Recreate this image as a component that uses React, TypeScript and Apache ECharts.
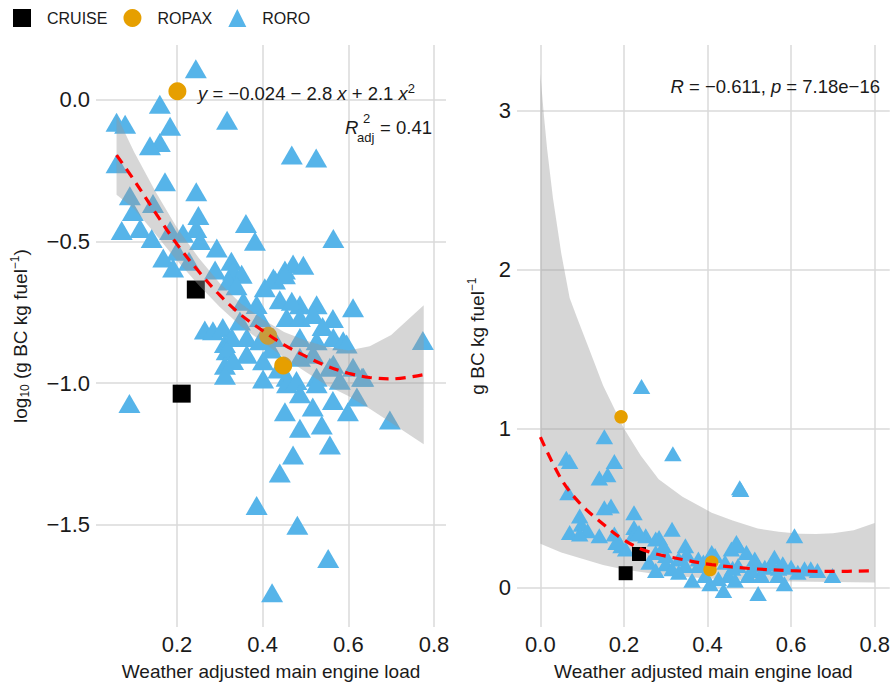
import React, { useEffect, useRef } from 'react';
import * as echarts from 'echarts';

const FONT = '"Liberation Sans", Arial, Helvetica, sans-serif';
const BLUE = '#56B4E9';
const ORANGE = '#E69F00';
const BLACK = '#000000';
const RED = '#FF0000';
const TXT = '#1a1a1a';

// ---------- Left panel (log10 scale) ----------
const leftRoro: [number, number][] = [
  [0.244, 0.108], [0.160, -0.017], [0.317, -0.073], [0.059, -0.080], [0.079, -0.087],
  [0.184, -0.094], [0.160, -0.152], [0.137, -0.163], [0.468, -0.196], [0.525, -0.206],
  [0.059, -0.227], [0.172, -0.290], [0.245, -0.325], [0.090, -0.339], [0.144, -0.367],
  [0.097, -0.395], [0.250, -0.409], [0.071, -0.462], [0.114, -0.455], [0.141, -0.490],
  [0.184, -0.462], [0.214, -0.472], [0.245, -0.455], [0.254, -0.497], [0.361, -0.437],
  [0.382, -0.500], [0.293, -0.524], [0.327, -0.570], [0.200, -0.535], [0.168, -0.559],
  [0.191, -0.594], [0.228, -0.570], [0.565, -0.490], [0.471, -0.580], [0.495, -0.584],
  [0.452, -0.601], [0.429, -0.636], [0.289, -0.601], [0.331, -0.605], [0.351, -0.616],
  [0.320, -0.640], [0.339, -0.657], [0.405, -0.664], [0.440, -0.706], [0.487, -0.724],
  [0.526, -0.724], [0.611, -0.734], [0.564, -0.772], [0.265, -0.813], [0.284, -0.815],
  [0.307, -0.804], [0.312, -0.860], [0.774, -0.850], [0.425, -0.629], [0.452, -0.618],
  [0.355, -0.711], [0.386, -0.723], [0.468, -0.711], [0.456, -0.769], [0.487, -0.769],
  [0.518, -0.758], [0.347, -0.781], [0.394, -0.769], [0.328, -0.839], [0.363, -0.839],
  [0.394, -0.851], [0.425, -0.839], [0.487, -0.839], [0.526, -0.851], [0.565, -0.839],
  [0.588, -0.851], [0.316, -0.886], [0.363, -0.898], [0.401, -0.921], [0.487, -0.909],
  [0.518, -0.898], [0.565, -0.933], [0.611, -0.944], [0.635, -0.979], [0.526, -0.979],
  [0.456, -0.979], [0.580, -0.990], [0.089, -1.072], [0.697, -1.130], [0.596, -0.862],
  [0.557, -0.944], [0.526, -1.002], [0.457, -1.002], [0.401, -0.985], [0.479, -0.991],
  [0.487, -1.037], [0.517, -1.084], [0.564, -1.061], [0.620, -1.049], [0.632, -0.979],
  [0.599, -1.101], [0.452, -1.101], [0.487, -1.159], [0.538, -1.148], [0.557, -1.218],
  [0.471, -1.253], [0.440, -1.317], [0.386, -1.431], [0.481, -1.501], [0.553, -1.618],
  [0.422, -1.739], [0.312, -0.937], [0.312, -0.972], [0.331, -0.920], [0.437, -0.950],
  [0.540, -0.800], [0.420, -0.880]
];
const leftRopax: [number, number][] = [[0.201, 0.029], [0.413, -0.833], [0.448, -0.938]];
const leftCruise: [number, number][] = [[0.244, -0.670], [0.211, -1.037]];

const leftFitX = [0.059, 0.1, 0.15, 0.2, 0.25, 0.3, 0.35, 0.4, 0.45, 0.5, 0.55, 0.6, 0.65, 0.7, 0.776];
const leftFitY = [-0.196, -0.285, -0.40, -0.51, -0.605, -0.69, -0.76, -0.815, -0.865, -0.905, -0.94, -0.965, -0.98, -0.985, -0.97];
const leftBandUpper = [-0.056, -0.185, -0.325, -0.452, -0.557, -0.648, -0.72, -0.775, -0.82, -0.85, -0.872, -0.885, -0.87, -0.83, -0.725];
const leftBandLower = [-0.336, -0.385, -0.475, -0.568, -0.653, -0.732, -0.80, -0.855, -0.91, -0.96, -1.008, -1.045, -1.09, -1.14, -1.215];

const leftXTicks = [0.2, 0.4, 0.6, 0.8];
const leftYTicks = [-1.5, -1.0, -0.5, 0.0];

// ---------- Right panel (linear scale) ----------
const rightRoro: [number, number][] = [
  [0.242, 1.264], [0.153, 0.948], [0.062, 0.813], [0.070, 0.792], [0.177, 0.792],
  [0.317, 0.840], [0.141, 0.688], [0.161, 0.709], [0.477, 0.626], [0.479, 0.615],
  [0.066, 0.595], [0.094, 0.449], [0.153, 0.501], [0.169, 0.512], [0.224, 0.470],
  [0.098, 0.397], [0.070, 0.345], [0.113, 0.356], [0.141, 0.324], [0.177, 0.335],
  [0.224, 0.376], [0.252, 0.324], [0.284, 0.314], [0.315, 0.366], [0.347, 0.262],
  [0.378, 0.179], [0.608, 0.324], [0.473, 0.262], [0.457, 0.241], [0.193, 0.262],
  [0.204, 0.241], [0.276, 0.220], [0.300, 0.200], [0.331, 0.179], [0.363, 0.044],
  [0.406, 0.023], [0.438, -0.019], [0.521, -0.039], [0.584, 0.023], [0.699, 0.075],
  [0.647, 0.117], [0.560, 0.189], [0.513, 0.179], [0.442, 0.158], [0.473, 0.137],
  [0.537, 0.127], [0.600, 0.127], [0.616, 0.095], [0.663, 0.106], [0.497, 0.075],
  [0.450, 0.075], [0.300, 0.148], [0.315, 0.117], [0.347, 0.137], [0.260, 0.158],
  [0.276, 0.106], [0.331, 0.095], [0.394, 0.075], [0.378, 0.137], [0.426, 0.054],
  [0.466, 0.044], [0.505, 0.106], [0.529, 0.075], [0.568, 0.075], [0.580, 0.148],
  [0.552, 0.148], [0.632, 0.117], [0.224, 0.335], [0.181, 0.283], [0.276, 0.304],
  [0.094, 0.335], [0.236, 0.345], [0.295, 0.262], [0.410, 0.220], [0.469, 0.283],
  [0.493, 0.220], [0.418, 0.200], [0.350, 0.210], [0.390, 0.160], [0.460, 0.120],
  [0.520, 0.140], [0.570, 0.120]
];
const rightRopax: [number, number][] = [[0.193, 1.073], [0.410, 0.158], [0.406, 0.112]];
const rightCruise: [number, number][] = [[0.236, 0.210], [0.204, 0.089]];

const rightFitX = [0, 0.05, 0.094, 0.141, 0.196, 0.252, 0.331, 0.41, 0.505, 0.6, 0.694, 0.8];
const rightFitY = [0.945, 0.68, 0.53, 0.418, 0.305, 0.23, 0.18, 0.143, 0.118, 0.105, 0.10, 0.105];

const rightBandUpperX = [0, 0.008, 0.016, 0.03, 0.05, 0.07, 0.09, 0.115, 0.15, 0.2, 0.24, 0.283, 0.34, 0.41, 0.46, 0.52, 0.57, 0.62, 0.66, 0.7, 0.75, 0.8];
const rightBandUpper = [3.23, 2.98, 2.76, 2.45, 2.1, 1.82, 1.68, 1.51, 1.27, 1.0, 0.83, 0.68, 0.57, 0.47, 0.42, 0.37, 0.35, 0.337, 0.335, 0.34, 0.36, 0.405];
const rightBandLowerX = [0, 0.05, 0.1, 0.15, 0.2, 0.3, 0.4, 0.5, 0.6, 0.7, 0.8];
const rightBandLower = [0.274, 0.22, 0.18, 0.14, 0.112, 0.075, 0.056, 0.045, 0.037, 0.033, 0.031];

const rightXTicks = [0.0, 0.2, 0.4, 0.6, 0.8];
const rightYTicks = [0, 1, 2, 3];

// ---------- helpers ----------
const fmt1 = (v: number) => (v < 0 ? '\u2212' : '') + Math.abs(v).toFixed(1);
const fmt0 = (v: number) => String(Math.round(v));

function valueAxis(gridIndex: number, min: number, max: number, ticks: number[], formatter: (v: number) => string, extra: any) {
  return {
    type: 'value',
    gridIndex,
    min,
    max,
    axisLine: { show: false },
    axisTick: { show: false, customValues: ticks },
    axisLabel: {
      customValues: ticks,
      formatter,
      fontSize: 22,
      color: TXT,
      fontFamily: FONT,
      margin: 6,
    },
    splitLine: { show: true, lineStyle: { color: '#dadada', width: 1.5 } },
    ...extra,
  };
}

function bandSeries(xAxisIndex: number, upX: number[], up: number[], loX: number[], lo: number[], z: number) {
  return {
    type: 'custom',
    xAxisIndex,
    yAxisIndex: xAxisIndex,
    z,
    silent: true,
    clip: true,
    data: [[upX[0], up[0]]],
    renderItem: (_params: any, api: any) => {
      const pts: number[][] = [];
      for (let i = 0; i < upX.length; i++) pts.push(api.coord([upX[i], up[i]]));
      for (let i = loX.length - 1; i >= 0; i--) pts.push(api.coord([loX[i], lo[i]]));
      return {
        type: 'polygon',
        shape: { points: pts },
        style: { fill: 'rgba(153,153,153,0.4)', stroke: 'none' },
      };
    },
  };
}

function fitSeries(idx: number, xs: number[], ys: number[]) {
  return {
    type: 'line',
    xAxisIndex: idx,
    yAxisIndex: idx,
    z: 5,
    silent: true,
    smooth: 0.35,
    symbol: 'none',
    data: xs.map((x, i) => [x, ys[i]]),
    lineStyle: { color: RED, width: 3.2, type: [10, 7] },
  };
}

const nameStyleBase = { fontSize: 19, lineHeight: 22, color: TXT, fontFamily: FONT };
const richAxis = {
  t: { fontSize: 19, lineHeight: 22, color: TXT, fontFamily: FONT },
  sub: { fontSize: 12, lineHeight: 12, color: TXT, fontFamily: FONT, verticalAlign: 'bottom' },
  sup: { fontSize: 12, lineHeight: 12, color: TXT, fontFamily: FONT, verticalAlign: 'top' },
};
const richAnno = {
  n: { fontSize: 18.5, lineHeight: 22, fill: TXT, color: TXT, fontFamily: FONT },
  i: { fontSize: 18.5, lineHeight: 22, fill: TXT, color: TXT, fontFamily: FONT, fontStyle: 'italic' },
  sup: { fontSize: 13, lineHeight: 13, fill: TXT, color: TXT, fontFamily: FONT, verticalAlign: 'top' },
};

const option: any = {
  animation: false,
  backgroundColor: '#ffffff',
  legend: {
    left: 8,
    top: 4,
    itemWidth: 18,
    itemHeight: 18,
    itemGap: 16,
    selectedMode: false,
    data: [
      { name: 'CRUISE', icon: 'rect' },
      { name: 'ROPAX', icon: 'circle' },
      { name: 'RORO', icon: 'triangle' },
    ],
    textStyle: { fontSize: 16, color: TXT, fontFamily: FONT, padding: [0, 0, 0, 11] },
  },
  grid: [
    { left: 96, top: 45, width: 350, height: 587 },
    { left: 517, top: 45, width: 376, height: 587 },
  ],
  xAxis: [
    valueAxis(0, 0.011, 0.828, leftXTicks, fmt1, {
      name: 'Weather adjusted main engine load',
      nameLocation: 'middle',
      nameGap: 32,
      nameTextStyle: nameStyleBase,
    }),
    valueAxis(1, -0.056, 0.836, rightXTicks, fmt1, {
      name: 'Weather adjusted main engine load',
      nameLocation: 'middle',
      nameGap: 32,
      nameTextStyle: nameStyleBase,
    }),
  ],
  yAxis: [
    valueAxis(0, -1.86, 0.192, leftYTicks, fmt1, {
      name: '{t|log}{sub|10}{t| (g BC kg fuel}{sup|\u22121}{t|)}',
      nameLocation: 'middle',
      nameGap: 65,
      nameTextStyle: { ...nameStyleBase, rich: richAxis },
    }),
    valueAxis(1, -0.25, 3.412, rightYTicks, fmt0, {
      name: '{t|g BC kg fuel}{sup|\u22121}',
      nameLocation: 'middle',
      nameGap: 29,
      nameTextStyle: { ...nameStyleBase, rich: richAxis },
    }),
  ],
  graphic: [
    {
      type: 'text',
      x: 198,
      y: 93,
      z: 10,
      style: {
        text: '{i|y}{n| = \u22120.024 \u2212 2.8 }{i|x}{n| + 2.1 }{i|x}{sup|2}',
        rich: richAnno,
        fill: TXT,
        fontSize: 18.5,
        fontFamily: FONT,
        textAlign: 'left',
        textVerticalAlign: 'middle',
      },
    },
    {
      type: 'text',
      x: 345,
      y: 127,
      z: 10,
      style: { text: 'R', fill: TXT, fontSize: 18.5, fontStyle: 'italic', fontFamily: FONT, textAlign: 'left', textVerticalAlign: 'middle' },
    },
    {
      type: 'text',
      x: 363,
      y: 118,
      z: 10,
      style: { text: '2', fill: TXT, fontSize: 13, fontFamily: FONT, textAlign: 'left', textVerticalAlign: 'middle' },
    },
    {
      type: 'text',
      x: 357,
      y: 137,
      z: 10,
      style: { text: 'adj', fill: TXT, fontSize: 13, fontFamily: FONT, textAlign: 'left', textVerticalAlign: 'middle' },
    },
    {
      type: 'text',
      x: 432,
      y: 127,
      z: 10,
      style: { text: '= 0.41', fill: TXT, fontSize: 18.5, fontFamily: FONT, textAlign: 'right', textVerticalAlign: 'middle' },
    },
    {
      type: 'text',
      x: 880,
      y: 86,
      z: 10,
      style: {
        text: '{i|R}{n| = \u22120.611, }{i|p}{n| = 7.18e\u221216}',
        rich: richAnno,
        fill: TXT,
        fontSize: 18.5,
        fontFamily: FONT,
        textAlign: 'right',
        textVerticalAlign: 'middle',
      },
    },
  ],
  series: [
    // left panel points (under the ribbon)
    {
      name: 'RORO', type: 'scatter', xAxisIndex: 0, yAxisIndex: 0, z: 2,
      symbol: 'triangle', symbolSize: [22, 19], data: leftRoro,
      itemStyle: { color: BLUE, opacity: 1 },
    },
    {
      name: 'CRUISE', type: 'scatter', xAxisIndex: 0, yAxisIndex: 0, z: 2,
      symbol: 'rect', symbolSize: 18, data: leftCruise,
      itemStyle: { color: BLACK, opacity: 1 },
    },
    {
      name: 'ROPAX', type: 'scatter', xAxisIndex: 0, yAxisIndex: 0, z: 2,
      symbol: 'circle', symbolSize: 18, data: leftRopax,
      itemStyle: { color: ORANGE, opacity: 1 },
    },
    bandSeries(0, leftFitX, leftBandUpper, leftFitX, leftBandLower, 3),
    fitSeries(0, leftFitX, leftFitY),
    // right panel (ribbon under the points)
    bandSeries(1, rightBandUpperX, rightBandUpper, rightBandLowerX, rightBandLower, 1),
    {
      name: 'RORO', type: 'scatter', xAxisIndex: 1, yAxisIndex: 1, z: 2,
      symbol: 'triangle', symbolSize: [17.5, 15], data: rightRoro,
      itemStyle: { color: BLUE, opacity: 1 },
    },
    {
      name: 'CRUISE', type: 'scatter', xAxisIndex: 1, yAxisIndex: 1, z: 2,
      symbol: 'rect', symbolSize: 14, data: rightCruise,
      itemStyle: { color: BLACK, opacity: 1 },
    },
    {
      name: 'ROPAX', type: 'scatter', xAxisIndex: 1, yAxisIndex: 1, z: 2,
      symbol: 'circle', symbolSize: 13.5, data: rightRopax,
      itemStyle: { color: ORANGE, opacity: 1 },
    },
    fitSeries(1, rightFitX, rightFitY),
  ],
};

export default function App() {
  const ref = useRef<HTMLDivElement>(null);
  useEffect(() => {
    document.body.style.margin = '0';
    const chart = echarts.init(ref.current as HTMLDivElement, undefined, { renderer: 'svg' });
    chart.setOption(option);
    return () => {
      chart.dispose();
    };
  }, []);
  return (
    <div
      ref={ref}
      style={{ position: 'absolute', left: 0, top: 0, width: 893, height: 687, background: '#ffffff' }}
    />
  );
}
